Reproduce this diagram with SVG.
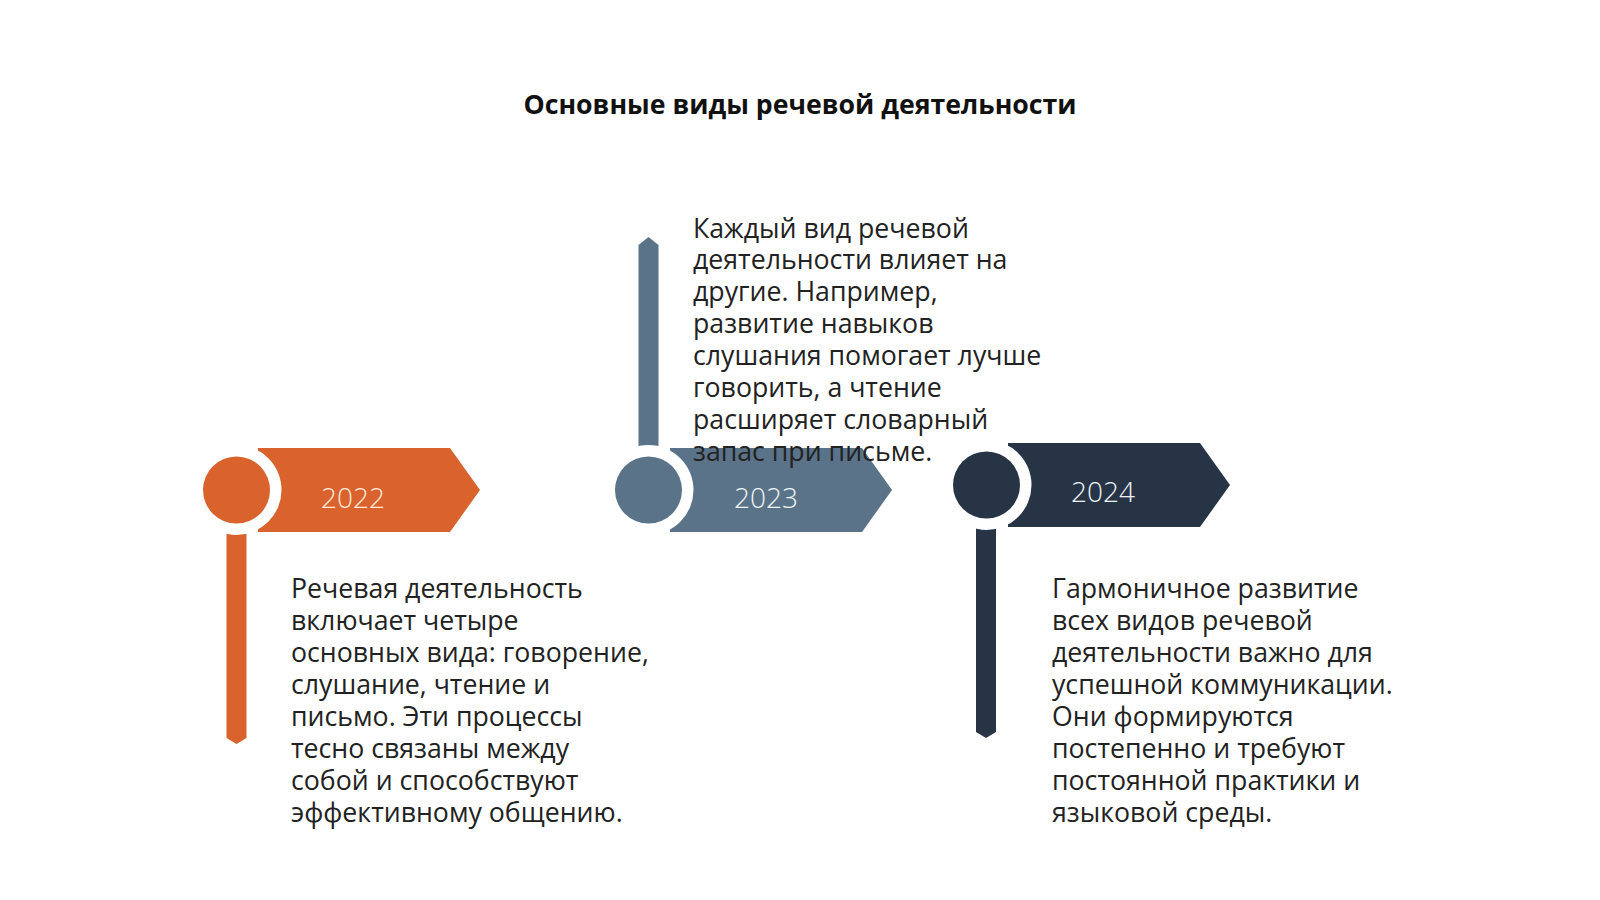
<svg xmlns="http://www.w3.org/2000/svg" width="1600" height="900" viewBox="0 0 1600 900">
<style>
.title{font-family:"Open Sans","Noto Sans","DejaVu Sans",sans-serif;font-weight:700;font-size:26.7px;fill:#111;}
.body{font-family:"Open Sans","Noto Sans","DejaVu Sans",sans-serif;font-size:26.7px;fill:#222;}
.year{font-family:"Open Sans","Noto Sans","DejaVu Sans",sans-serif;font-size:28px;font-weight:300;text-anchor:middle;}
.ring{fill:#ffffff;}
</style>
<rect width="1600" height="900" fill="#ffffff"/>
<text class="title" x="800" y="114" text-anchor="middle">Основные виды речевой деятельности</text>
<g id="connectors"></g>
<g id="node-2022">
<polygon points="258,448 450,448 480,490 450,532 258,532" fill="#D9622D"/>
<polygon points="226.5,530 246.5,530 246.5,738 236.5,744 226.5,738" fill="#D9622D"/>
<circle class="ring" cx="236.5" cy="490" r="45"/>
<circle cx="236.5" cy="490" r="33.5" fill="#D9622D"/>
<text class="year" x="353" y="507.5" fill="#FCEBDC">2022</text>
<text class="body" x="291" y="597.5">
<tspan x="291" y="597.5">Речевая деятельность</tspan>
<tspan x="291" y="629.5">включает четыре</tspan>
<tspan x="291" y="661.5">основных вида: говорение,</tspan>
<tspan x="291" y="693.5">слушание, чтение и</tspan>
<tspan x="291" y="725.5">письмо. Эти процессы</tspan>
<tspan x="291" y="757.5">тесно связаны между</tspan>
<tspan x="291" y="789.5">собой и способствуют</tspan>
<tspan x="291" y="821.5">эффективному общению.</tspan>
</text>
</g>
<g id="node-2023">
<polygon points="670,448 862,448 892,490 862,532 670,532" fill="#5A7389"/>
<polygon points="638.5,245 648.5,237 658.5,245 658.5,455 638.5,455" fill="#5A7389"/>
<circle class="ring" cx="648.5" cy="490" r="45"/>
<circle cx="648.5" cy="490" r="33.5" fill="#5A7389"/>
<text class="year" x="766" y="507.5" fill="#EEF3F7">2023</text>
<text class="body" x="693" y="237.5">
<tspan x="693" y="237.5">Каждый вид речевой</tspan>
<tspan x="693" y="269.4">деятельности влияет на</tspan>
<tspan x="693" y="301.3">другие. Например,</tspan>
<tspan x="693" y="333.2">развитие навыков</tspan>
<tspan x="693" y="365.1">слушания помогает лучше</tspan>
<tspan x="693" y="397">говорить, а чтение</tspan>
<tspan x="693" y="428.9">расширяет словарный</tspan>
<tspan x="693" y="460.8">запас при письме.</tspan>
</text>
</g>
<g id="node-2024">
<polygon points="1008,443 1200,443 1230,485 1200,527 1008,527" fill="#273446"/>
<polygon points="976,525 996,525 996,732 986,738 976,732" fill="#273446"/>
<circle class="ring" cx="986.5" cy="485" r="45"/>
<circle cx="986.5" cy="485" r="33.5" fill="#273446"/>
<text class="year" x="1103" y="501.5" fill="#EEF2F6">2024</text>
<text class="body" x="1052" y="597.5">
<tspan x="1052" y="597.5">Гармоничное развитие</tspan>
<tspan x="1052" y="629.5">всех видов речевой</tspan>
<tspan x="1052" y="661.5">деятельности важно для</tspan>
<tspan x="1052" y="693.5">успешной коммуникации.</tspan>
<tspan x="1052" y="725.5">Они формируются</tspan>
<tspan x="1052" y="757.5">постепенно и требуют</tspan>
<tspan x="1052" y="789.5">постоянной практики и</tspan>
<tspan x="1052" y="821.5">языковой среды.</tspan>
</text>
</g>
</svg>
